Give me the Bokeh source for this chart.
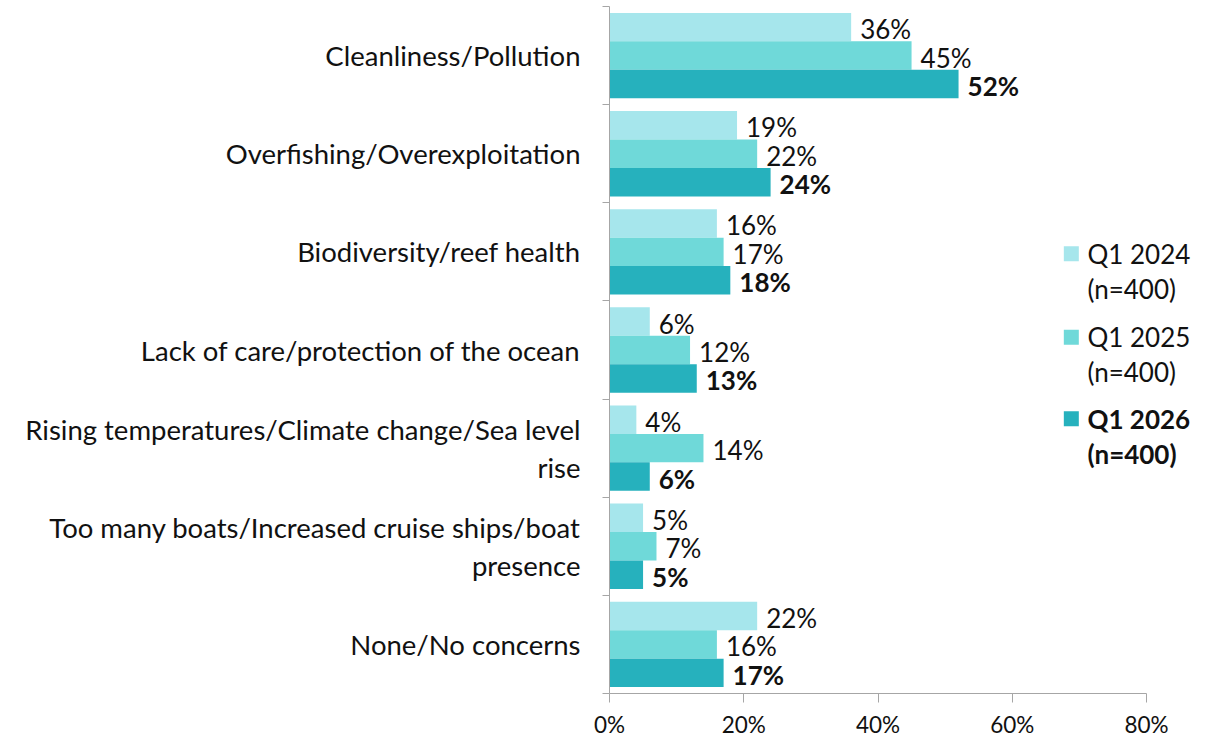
from bokeh.plotting import figure
from bokeh.models import FixedTicker, PrintfTickFormatter, Range1d
from bokeh.core.properties import value
from bokeh.embed import file_html
from bokeh.resources import INLINE

# Ocean concerns by survey wave (percent of respondents)
categories = [
    "Cleanliness/Pollution",
    "Overfishing/Overexploitation",
    "Biodiversity/reef health",
    "Lack of care/protection of the ocean",
    "Rising temperatures/Climate change/Sea level\nrise",
    "Too many boats/Increased cruise ships/boat\npresence",
    "None/No concerns",
]
q1_2024 = [36, 19, 16, 6, 4, 5, 22]
q1_2025 = [45, 22, 17, 12, 14, 7, 16]
q1_2026 = [52, 24, 18, 13, 6, 5, 17]
series_names = ["Q1 2024", "Q1 2025", "Q1 2026"]
sample_sizes = ["(n=400)", "(n=400)", "(n=400)"]
x_ticks = [0, 20, 40, 60, 80]

colors = ["#A6E6EC", "#6FD9D9", "#26B1BD"]
FONT = "Lato"
TEXT_COLOR = "#111111"
AXIS_COLOR = "#A6A6A6"

W, H = 1220, 740
BORDER_L, BORDER_R, BORDER_T, BORDER_B = 609, 5, 6, 46
AXIS_MAX = 80
AXIS_PX = 537  # pixel length of 0..80 on the value axis
frame_w = W - BORDER_L - BORDER_R
x_end = frame_w * AXIS_MAX / AXIS_PX

n = len(categories)
centers = [n - 0.5 - i for i in range(n)]
bar_h = 0.29
offsets = [bar_h, 0.0, -bar_h]

p = figure(
    width=W, height=H,
    x_range=Range1d(0, x_end), y_range=Range1d(0, n),
    output_backend="svg", toolbar_location=None,
    min_border_left=BORDER_L, min_border_right=BORDER_R,
    min_border_top=BORDER_T, min_border_bottom=BORDER_B,
)
p.outline_line_color = None
p.xgrid.visible = False
p.ygrid.visible = False
p.background_fill_color = "white"
p.border_fill_color = "white"

series = [q1_2024, q1_2025, q1_2026]
for k, vals in enumerate(series):
    ys = [c + offsets[k] for c in centers]
    p.hbar(y=ys, left=0, right=vals, height=bar_h,
           fill_color=colors[k], line_color=None)
    p.text(x=vals, y=ys, text=[f"{v}%" for v in vals],
           x_offset=9, y_offset=2,
           text_baseline="middle", text_align="left",
           text_font=value(FONT), text_font_size="26px",
           text_font_style="bold" if k == 2 else "normal",
           text_color=TEXT_COLOR)

# legend drawn as markers + two-line labels
leg_x = 68.8
leg_text_x = 71.2
leg_tops = [4.48, 3.63, 2.80]
line_gap = 0.355
for k in range(3):
    p.scatter(x=[leg_x], y=[leg_tops[k]], marker="square", size=15,
              fill_color=colors[k], line_color=None)
    style = "bold" if k == 2 else "normal"
    for j, line in enumerate([series_names[k], sample_sizes[k]]):
        p.text(x=[leg_text_x], y=[leg_tops[k] - j * line_gap], text=[line],
               text_baseline="middle", text_align="left",
               text_font=value(FONT), text_font_size="26px",
               text_font_style=style, text_color=TEXT_COLOR)

# value axis
xa = p.xaxis[0]
xa.bounds = (0, AXIS_MAX)
xa.ticker = FixedTicker(ticks=x_ticks, minor_ticks=[])
xa.formatter = PrintfTickFormatter(format="%d%%")
xa.axis_line_color = AXIS_COLOR
xa.major_tick_line_color = AXIS_COLOR
xa.major_tick_out = 9
xa.major_tick_in = 0
xa.minor_tick_line_color = None
xa.major_label_text_font = FONT
xa.major_label_text_font_size = "22.5px"
xa.major_label_text_color = TEXT_COLOR
xa.major_label_standoff = 8

# category axis: labels at group centres, tick marks between groups
ya = p.yaxis[0]
ya.ticker = FixedTicker(ticks=centers, minor_ticks=list(range(n + 1)))
ya.major_label_overrides = {c: lab for c, lab in zip(centers, categories)}
ya.axis_line_color = AXIS_COLOR
ya.major_tick_line_color = None
ya.major_tick_out = 0
ya.major_tick_in = 0
ya.minor_tick_line_color = AXIS_COLOR
ya.minor_tick_out = 7
ya.minor_tick_in = 0
ya.major_label_text_font = FONT
ya.major_label_text_font_size = "27.5px"
ya.major_label_text_color = TEXT_COLOR
ya.major_label_text_line_height = 1.15
ya.major_label_standoff = 22

open("out.html", "w").write(file_html(p, INLINE))
